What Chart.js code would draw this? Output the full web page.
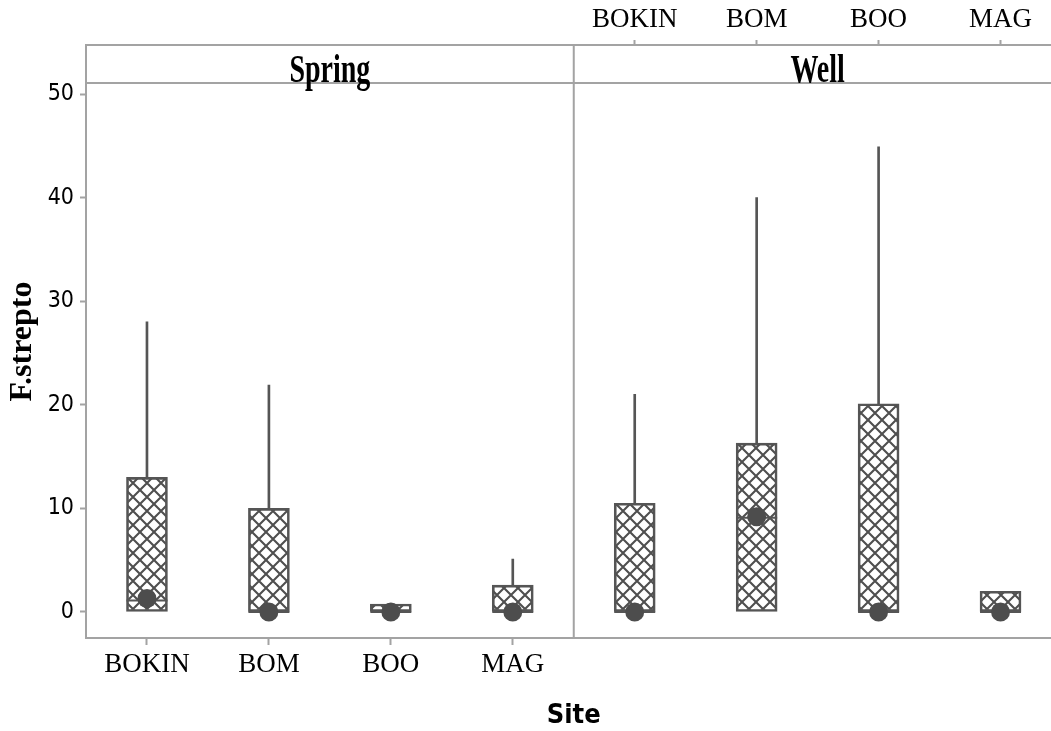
<!DOCTYPE html>
<html>
<head>
<meta charset="utf-8">
<script src="https://cdn.jsdelivr.net/npm/chart.js@4.4.1/dist/chart.umd.min.js"></script>
<style>
  body { margin: 0; background: #fff; overflow: hidden; }
</style>
</head>
<body>
<canvas id="grafico" width="1084" height="731"></canvas>
<script>
// datos (F.strepto por sitio)
const panels = ['Spring', 'Well']
const sites = ['BOKIN', 'BOM', 'BOO', 'MAG']

// orden: Spring BOKIN..MAG, Well BOKIN..MAG
const q1 = [0, 0, 0, 0, 0, 0, 0, 0]
const q3 = [13, 10, 0.77, 2.6, 10.5, 16.3, 20.1, 2.0]
const whiskerHigh = [28, 21.9, 0.77, 5.1, 21, 40, 44.9, 2.0]
const medians = [1.1, 0, 0, 0, 0, 9.1, 0, 0]
const means = [1.3, 0, 0, 0, 0, 9.2, 0, 0]

const yTicks = [0, 10, 20, 30, 40, 50]

const gris = '#a3a3a3'
const oscuro = '#555555'
const sansCond = '"DejaVu Sans Condensed", "DejaVu Sans", sans-serif'

const labels = panels.flatMap(() => sites)
const cajas = q1.map((v, i) => [v, q3[i]])
const bigotes = q3.map((v, i) => whiskerHigh[i] > v ? [v, whiskerHigh[i]] : null)

const ctx = document.getElementById('grafico').getContext('2d')

// trama cruzada para las cajas
const tile = document.createElement('canvas')
tile.width = 14
tile.height = 14
const t = tile.getContext('2d')
t.strokeStyle = '#4f4f4f'
t.lineWidth = 2.1
t.beginPath()
t.moveTo(-1, -1); t.lineTo(15, 15)
t.moveTo(15, -1); t.lineTo(-1, 15)
t.stroke()
const trama = ctx.createPattern(tile, 'repeat')

const panelPlugin = {
    id: 'paneles',
    afterDraw(chart) {
        const { ctx, chartArea, scales } = chart
        const headerBottom = chartArea.top + 38
        const divider = (scales.x.getPixelForValue(3) + scales.x.getPixelForValue(4)) / 2
        ctx.save()
        ctx.strokeStyle = gris
        ctx.lineWidth = 2
        ctx.beginPath()
        ctx.moveTo(chartArea.left, headerBottom)
        ctx.lineTo(chartArea.right, headerBottom)
        ctx.moveTo(divider, chartArea.top)
        ctx.lineTo(divider, chartArea.bottom)
        ctx.stroke()

        ctx.fillStyle = '#000'
        ctx.font = 'bold 40px "Liberation Serif"'
        ctx.textAlign = 'center'
        ctx.textBaseline = 'alphabetic'
        const centros = [(chartArea.left + divider) / 2, (divider + chartArea.right) / 2]
        panels.forEach((p, i) => {
            ctx.save()
            ctx.translate(centros[i], chartArea.top + 37)
            ctx.scale(0.7, 1)
            ctx.fillText(p, 0, 0)
            ctx.restore()
        })
        ctx.restore()
    }
}

new Chart(ctx, {
    type: 'bar',
    data: {
        labels: labels,
        datasets: [
            {
                type: 'line',
                data: means,
                showLine: false,
                pointRadius: 9.5,
                pointBackgroundColor: '#4d4d4d',
                pointBorderWidth: 0,
                order: 1
            },
            {
                type: 'line',
                data: medians,
                showLine: false,
                pointStyle: 'line',
                pointRadius: 20.5,
                pointBorderColor: oscuro,
                pointBorderWidth: 2,
                order: 2
            },
            {
                data: cajas,
                backgroundColor: trama,
                borderColor: oscuro,
                borderWidth: 2,
                borderSkipped: false,
                barThickness: 41,
                grouped: false,
                order: 3
            },
            {
                data: bigotes,
                backgroundColor: oscuro,
                borderWidth: 0,
                barThickness: 2,
                grouped: false,
                order: 4
            }
        ]
    },
    options: {
        responsive: false,
        animation: false,
        layout: { padding: { right: 10 } },
        plugins: {
            legend: { display: false },
            tooltip: { enabled: false }
        },
        scales: {
            x: {
                type: 'category',
                position: 'bottom',
                offset: true,
                afterFit: (axis) => { axis.height = 93 },
                grid: {
                    drawOnChartArea: false,
                    offset: false,
                    tickLength: 7,
                    tickWidth: 2,
                    tickColor: (c) => c.index < 4 ? gris : 'rgba(0,0,0,0)'
                },
                border: { color: gris, width: 2 },
                ticks: {
                    maxRotation: 0,
                    autoSkip: false,
                    padding: 4,
                    color: '#000',
                    font: { family: 'Liberation Serif', size: 27 },
                    callback: (v, i) => i < 4 ? sites[i] : ''
                },
                title: {
                    display: true,
                    text: 'Site',
                    color: '#000',
                    padding: { top: 0, bottom: 2 },
                    font: { family: sansCond, size: 27, weight: 'bold', lineHeight: 1 }
                }
            },
            x2: {
                type: 'category',
                position: 'top',
                offset: true,
                afterFit: (axis) => { axis.height = 45 },
                grid: {
                    drawOnChartArea: false,
                    offset: false,
                    tickLength: 5,
                    tickWidth: 2,
                    tickColor: (c) => c.index >= 4 ? gris : 'rgba(0,0,0,0)'
                },
                border: { color: gris, width: 2 },
                ticks: {
                    maxRotation: 0,
                    autoSkip: false,
                    padding: 4,
                    color: '#000',
                    font: { family: 'Liberation Serif', size: 27 },
                    callback: (v, i) => i >= 4 ? sites[i - 4] : ''
                }
            },
            y: {
                min: -2.51,
                max: 54.73,
                afterFit: (axis) => { axis.width = 86 },
                afterBuildTicks: (axis) => { axis.ticks = yTicks.map(v => ({ value: v })) },
                grid: {
                    drawOnChartArea: false,
                    tickLength: 6,
                    tickWidth: 2,
                    tickColor: gris
                },
                border: { color: gris, width: 2 },
                ticks: {
                    padding: 6,
                    color: '#000',
                    font: { family: sansCond, size: 23 }
                },
                title: {
                    display: true,
                    text: 'F.strepto',
                    color: '#000',
                    padding: { top: 7 },
                    font: { family: 'Liberation Serif', size: 32, weight: 'bold', lineHeight: 1 }
                }
            }
        }
    },
    plugins: [panelPlugin]
})
</script>
</body>
</html>
